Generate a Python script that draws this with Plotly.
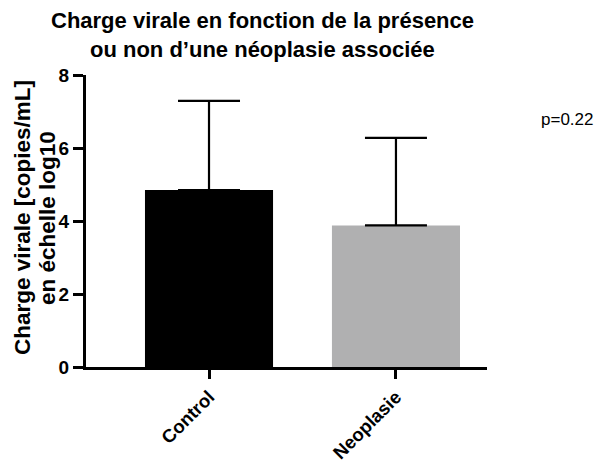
import plotly.graph_objects as go

categories = ["Control", "Neoplasie"]
means = [4.85, 3.88]
sd_upper = [2.44, 2.40]
bar_colors = ["#000000", "#b0b0b1"]
y_ticks = [0, 2, 4, 6, 8]
title_lines = ["Charge virale en fonction de la présence", "ou non d’une néoplasie associée"]
y_title_lines = ["Charge virale [copies/mL]", "en échelle log10"]
p_text = "p=0.22"

FONT = "Liberation Sans, Arial, Helvetica, sans-serif"

# page is offset by the 8px body margin; figure coordinates = page - 8
L, T = 78, 67
PW, PH = 401, 292
W, H = 608, 466

fig = go.Figure()
fig.add_trace(go.Bar(
    x=categories, y=means,
    marker=dict(color=bar_colors, line=dict(width=0)),
    width=0.685,
    error_y=dict(type="data", array=sd_upper, symmetric=False, arrayminus=[0, 0],
                 color="black", thickness=2.2, width=31),
))

fig.update_layout(
    width=W, height=H,
    margin=dict(l=L, r=W - L - PW, t=T, b=H - T - PH, autoexpand=False),
    paper_bgcolor="white", plot_bgcolor="white",
    showlegend=False,
    font=dict(family=FONT, color="black"),
    xaxis=dict(range=[-0.658, 1.487], showline=True, linecolor="black", linewidth=3,
               ticks="outside", ticklen=9, tickwidth=3, tickcolor="black",
               tickangle=-45, tickfont=dict(family=FONT, size=18.5, color="black", weight="bold"),
               showgrid=False, zeroline=False, automargin=False),
    yaxis=dict(range=[0, 8], tickvals=y_ticks, showline=True, linecolor="black", linewidth=3,
               ticks="outside", ticklen=10, tickwidth=3, tickcolor="black",
               tickfont=dict(family=FONT, size=19, color="black", weight="bold"),
               showgrid=False, zeroline=False, automargin=False),
)

def px_x(page_x):
    return (page_x - 8 - L) / PW

def px_y(page_y):
    return (T + PH - (page_y - 8)) / PH

title_y = [21, 49]
for line, yy in zip(title_lines, title_y):
    fig.add_annotation(text="<b>" + line + "</b>", xref="paper", yref="paper",
                       x=px_x(262), y=px_y(yy), xanchor="center", yanchor="middle",
                       showarrow=False, font=dict(family=FONT, size=22, color="black"))

ytitle_x = [22, 47]
for line, xx in zip(y_title_lines, ytitle_x):
    fig.add_annotation(text="<b>" + line + "</b>", xref="paper", yref="paper",
                       x=px_x(xx), y=px_y(218), xanchor="center", yanchor="middle",
                       textangle=-90, showarrow=False,
                       font=dict(family=FONT, size=22.5, color="black"))

fig.add_annotation(text=p_text, xref="paper", yref="y", x=px_x(539), y=6.77,
                   xanchor="left", yanchor="middle", showarrow=False,
                   font=dict(family=FONT, size=17, color="black"))

fig.write_html("out.html")
